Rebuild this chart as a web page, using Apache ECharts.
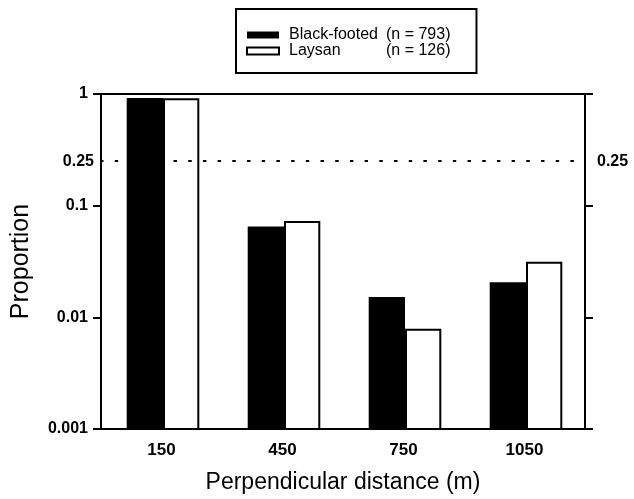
<!DOCTYPE html>
<html><head><meta charset="utf-8">
<script src="https://cdn.jsdelivr.net/npm/echarts@6/dist/echarts.min.js"></script>
<style>html,body{margin:0;padding:0;background:#fff;overflow:hidden}#c{width:634px;height:499px}</style>
</head><body><div id="c"></div>
<script>
const categories = ['150', '450', '750', '1050'];
const blackFooted = [0.92, 0.065, 0.0152, 0.0206];
const laysan = [0.915, 0.073, 0.0079, 0.0315];
const seriesNames = ['Black-footed', 'Laysan'];
const sampleSizes = ['(n = 793)', '(n = 126)'];
const yTickLabels = ['0.001', '0.01', '0.1', '1'];
const refLine = 0.25;
const yMin = 0.001, yMax = 1;

const font = 'Liberation Sans, Arial, Helvetica, sans-serif';
const chart = echarts.init(document.getElementById('c'), null, {renderer: 'canvas'});
const axisLineStyle = {color: '#000', width: 2};

function makeRender(side) {
  return function (params, api) {
    const top = api.coord([api.value(0), api.value(1)]);
    const base = api.coord([api.value(0), yMin]);
    const bw = api.size([1, 0])[0] * 0.3;
    if (side === 0) {
      return {type: 'rect', shape: {x: top[0] - bw + 1.5, y: top[1], width: bw, height: base[1] - top[1]},
        style: {fill: '#000', stroke: null}};
    }
    return {type: 'rect', shape: {x: top[0] + 2.5, y: top[1] + 1, width: bw - 2, height: base[1] - top[1] - 1},
      style: {fill: '#fff', stroke: '#000', lineWidth: 2}};
  };
}

chart.setOption({
  animation: false,
  backgroundColor: '#fff',
  grid: {left: 101, right: 49, top: 94, bottom: 68, containLabel: false},
  legend: {
    orient: 'vertical', left: 236, top: 9,
    padding: [18, 26, 14, 10], itemGap: 0,
    borderColor: '#000', borderWidth: 2,
    itemWidth: 32, itemHeight: 7,
    icon: 'rect',
    data: seriesNames,
    formatter: function (name) {
      const i = seriesNames.indexOf(name);
      return '{a|' + name + '}{b|' + sampleSizes[i] + '}';
    },
    textStyle: {
      fontFamily: font, fontSize: 16, color: '#000', lineHeight: 14,
      rich: {
        a: {fontFamily: font, fontSize: 16, width: 97, padding: [0, 0, 0, 5], lineHeight: 14},
        b: {fontFamily: font, fontSize: 16, lineHeight: 14}
      }
    }
  },
  xAxis: [{
    type: 'category', data: categories, position: 'bottom',
    axisLine: {lineStyle: axisLineStyle},
    axisTick: {alignWithLabel: true, length: 6, lineStyle: axisLineStyle},
    axisLabel: {fontFamily: font, fontSize: 17, fontWeight: 'bold', color: '#000', margin: 13},
    name: 'Perpendicular distance (m)', nameLocation: 'middle', nameGap: 42,
    nameTextStyle: {fontFamily: font, fontSize: 23, color: '#000'}
  }, {
    type: 'category', data: categories, position: 'top',
    axisLine: {lineStyle: axisLineStyle}, axisTick: {show: false}, axisLabel: {show: false}
  }],
  yAxis: [{
    type: 'log', logBase: 10, min: yMin, max: yMax, position: 'left',
    axisLine: {show: true, lineStyle: axisLineStyle},
    axisTick: {show: true, length: 8, lineStyle: axisLineStyle},
    splitLine: {show: false},
    axisLabel: {
      fontFamily: font, fontSize: 16, fontWeight: 'bold', color: '#000', margin: 13,
      formatter: function (v) {
        const e = Math.round(Math.log10(v)) + 3;
        return yTickLabels[e] !== undefined ? yTickLabels[e] : '';
      }
    },
    name: 'Proportion', nameLocation: 'middle', nameGap: 67,
    nameTextStyle: {fontFamily: font, fontSize: 25, color: '#000'}
  }, {
    type: 'log', logBase: 10, min: yMin, max: yMax, position: 'right',
    axisLine: {show: true, lineStyle: axisLineStyle},
    axisTick: {show: true, length: 8, lineStyle: axisLineStyle},
    splitLine: {show: false}, axisLabel: {show: false}
  }],
  series: [{
    name: seriesNames[0], type: 'custom',
    data: categories.map((c, i) => [i, blackFooted[i]]),
    encode: {x: 0, y: 1},
    itemStyle: {color: '#000'},
    renderItem: makeRender(0)
  }, {
    name: seriesNames[1], type: 'custom',
    data: categories.map((c, i) => [i, laysan[i]]),
    encode: {x: 0, y: 1},
    itemStyle: {color: '#fff', borderColor: '#000', borderWidth: 2},
    renderItem: makeRender(1),
    markLine: {
      symbol: 'none', silent: true,
      lineStyle: {color: '#000', width: 2, type: [1.5, 13.2], cap: 'round'},
      data: [
        {yAxis: refLine, label: {show: true, position: 'start', formatter: String(refLine), fontFamily: font, fontSize: 16, fontWeight: 'bold', color: '#000', distance: 7}},
        {yAxis: refLine, label: {show: true, position: 'end', formatter: String(refLine), fontFamily: font, fontSize: 16, fontWeight: 'bold', color: '#000', distance: 12}}
      ]
    }
  }]
});
</script></body></html>
